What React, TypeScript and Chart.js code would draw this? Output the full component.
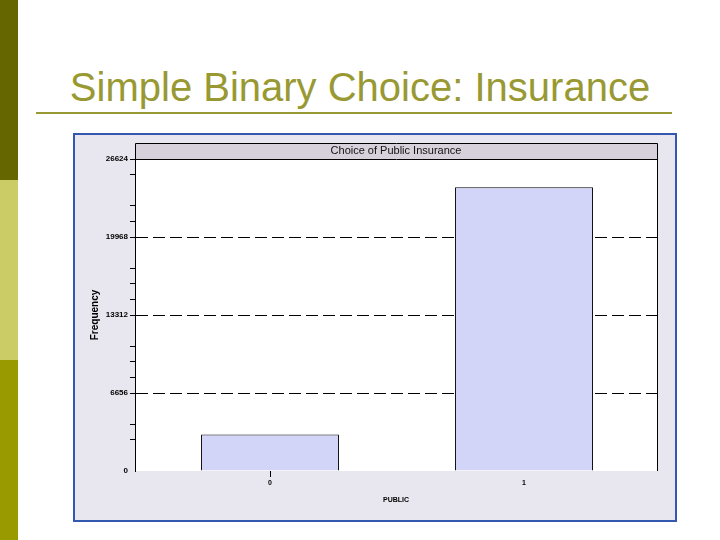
import React, { useEffect, useRef } from "react";
import { Chart, registerables } from "chart.js";

Chart.register(...registerables);

const categories = ["0", "1"];
const categoryValues = [0, 1];
const frequencies = [3123, 24203];
const xRange = [-0.5315, 1.5236];
const majorTicks = [0, 6656, 13312, 19968, 26624];
const minorTicks = [2662.4, 3993.6, 7987.2, 9318.4, 10649.6, 14643.2, 15974.4, 17305.6, 21299.2, 22630.4, 25292.8];
const gridValues = [6656, 13312, 19968];
const chartTitle = "Choice of Public Insurance";
const yTitle = "Frequency";
const xTitle = "PUBLIC";
const slideTitle = "Simple Binary Choice: Insurance";

const FONT = "'Liberation Sans', Arial, sans-serif";

const framePlugin = {
  id: "frame",
  beforeDraw(chart: any) {
    const { ctx, chartArea } = chart;
    const { left, right, top, bottom } = chartArea;
    ctx.save();
    ctx.fillStyle = "#ffffff";
    ctx.fillRect(left, top, right - left, bottom - top);
    ctx.fillStyle = "#d7d1db";
    ctx.fillRect(left, top - 16, right - left + 1, 16);
    ctx.restore();
  },
  afterDraw(chart: any) {
    const { ctx, chartArea } = chart;
    const { left, right, top, bottom } = chartArea;
    ctx.save();
    ctx.strokeStyle = "#000";
    ctx.lineWidth = 1;
    ctx.beginPath();
    ctx.rect(Math.round(left) + 0.5, Math.round(top - 16) + 0.5, Math.round(right - left), 16);
    ctx.moveTo(Math.round(right) + 0.5, top);
    ctx.lineTo(Math.round(right) + 0.5, bottom);
    ctx.stroke();
    ctx.restore();
  },
};

function BarChart() {
  const ref = useRef<HTMLCanvasElement | null>(null);
  useEffect(() => {
    if (!ref.current) return;
    const allTicks = [...majorTicks, ...minorTicks].sort((a, b) => a - b);
    const chart = new Chart(ref.current, {
      type: "bar",
      data: {
        datasets: [
          {
            data: frequencies.map((y, i) => ({ x: categoryValues[i], y })),
            backgroundColor: "#d2d4f8",
            borderColor: "#000",
            borderWidth: 1,
            borderSkipped: "bottom",
            categoryPercentage: 1,
            barPercentage: 0.543,
          },
        ],
      },
      options: {
        responsive: false,
        animation: false,
        events: [],
        layout: { padding: { left: 0, right: 18, top: 0, bottom: 0 } },
        plugins: {
          legend: { display: false },
          tooltip: { enabled: false },
          title: {
            display: true,
            text: chartTitle,
            fullSize: false,
            color: "#111",
            font: { family: FONT, size: 11, weight: "normal" },
            padding: { top: 9.5, bottom: 1.3 },
          },
        },
        scales: {
          x: {
            type: "linear",
            min: xRange[0],
            max: xRange[1],
            offset: false,
            afterBuildTicks: (s: any) => {
              s.ticks = categoryValues.map((v) => ({ value: v }));
            },
            afterFit: (s: any) => {
              s.height = 49;
            },
            border: { display: false },
            grid: {
              offset: false,
              drawOnChartArea: false,
              tickLength: 6,
              tickColor: (c: any) => (c.index === 0 ? "#000" : "rgba(0,0,0,0)"),
            },
            ticks: {
              autoSkip: false,
              color: "#000",
              padding: 2,
              font: { family: FONT, size: 7, weight: "bold" },
              callback: (v: any) => {
                const i = categoryValues.indexOf(Number(v));
                return i >= 0 ? categories[i] : "";
              },
            },
            title: {
              display: true,
              text: xTitle,
              color: "#000",
              font: { family: FONT, size: 7, weight: "bold" },
              padding: { top: 0, bottom: 16 },
            },
          },
          y: {
            min: 0,
            max: 26624,
            afterBuildTicks: (s: any) => {
              s.ticks = allTicks.map((v) => ({ value: v }));
            },
            afterFit: (s: any) => {
              s.width = 60;
            },
            border: { display: true, color: "#000", width: 1, dash: [12, 5] },
            grid: {
              color: (c: any) => (c.tick && gridValues.includes(c.tick.value) ? "#000" : "rgba(0,0,0,0)"),
              tickColor: (c: any) => (c.tick && c.tick.value === 0 ? "rgba(0,0,0,0)" : "#000"),
              tickLength: 5,
              lineWidth: 1,
            },
            ticks: {
              autoSkip: false,
              color: "#000",
              padding: 2,
              font: { family: FONT, size: 8, weight: "bold" },
              callback: (v: any) => (majorTicks.includes(Number(v)) ? String(v) : ""),
            },
            title: {
              display: true,
              text: yTitle,
              color: "#000",
              font: { family: FONT, size: 10, weight: "bold" },
              padding: { top: 14, bottom: 0 },
            },
          },
        },
      },
      plugins: [framePlugin],
    });
    return () => chart.destroy();
  }, []);
  return <canvas ref={ref} width={600} height={385} style={{ position: "absolute", left: 0, top: 0, width: 600, height: 385 }} />;
}

export default function App() {
  return (
    <div style={{ position: "absolute", left: 0, top: 0, width: 720, height: 540, background: "#fff", overflow: "hidden", fontFamily: FONT }}>
      <div style={{ position: "absolute", left: 0, top: 0, width: 18, height: 180, background: "#666600" }} />
      <div style={{ position: "absolute", left: 0, top: 180, width: 18, height: 180, background: "#cccc66" }} />
      <div style={{ position: "absolute", left: 0, top: 360, width: 18, height: 180, background: "#999900" }} />
      <div
        style={{
          position: "absolute",
          left: 0,
          top: 67,
          width: 720,
          textAlign: "center",
          fontSize: 40,
          lineHeight: "40px",
          color: "#999933",
          whiteSpace: "nowrap",
        }}
      >
        {slideTitle}
      </div>
      <div style={{ position: "absolute", left: 36, top: 112, width: 636, height: 2, background: "#999933" }} />
      <div
        style={{
          position: "absolute",
          left: 73,
          top: 133,
          width: 604,
          height: 389,
          boxSizing: "border-box",
          border: "2px solid #3458b0",
          background: "#e8e6ee",
        }}
      >
        <BarChart />
      </div>
    </div>
  );
}
